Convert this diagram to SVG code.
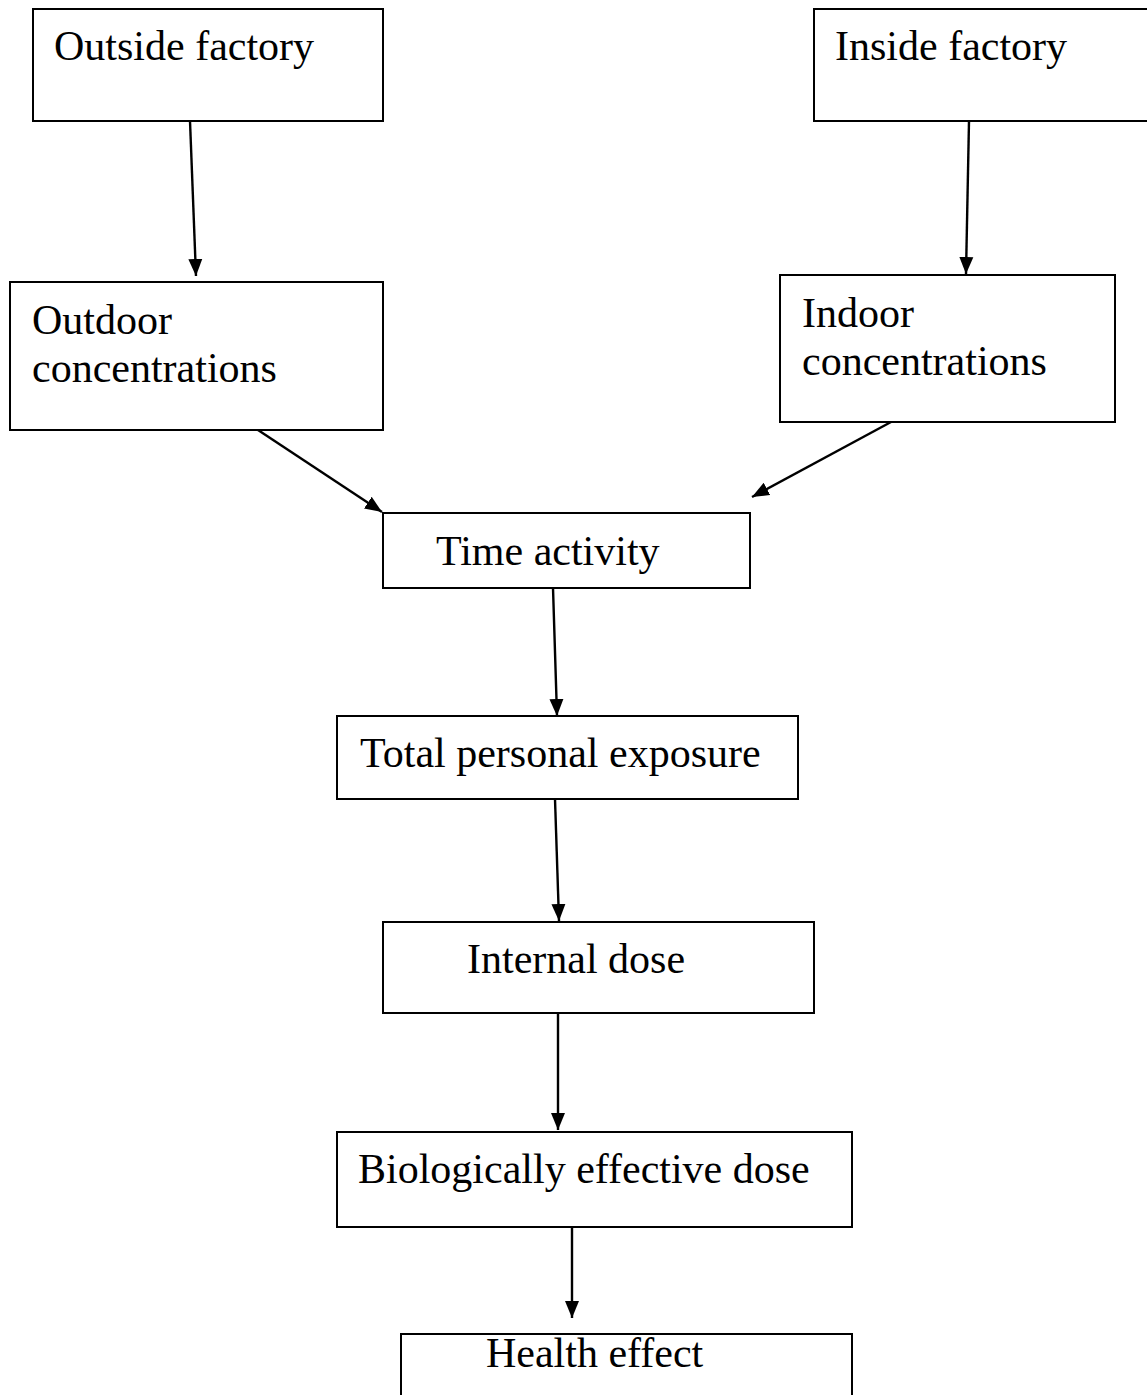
<svg xmlns="http://www.w3.org/2000/svg" width="1147" height="1395" viewBox="0 0 1147 1395">
<style>
.box{fill:#fff;stroke:#000;stroke-width:2}
.t{font-family:"Liberation Serif","Times New Roman",serif;font-size:42px;fill:#000}
.c{stroke:#000;stroke-width:2.4;fill:none;marker-end:url(#ah)}
</style>
<defs>
<marker id="ah" markerUnits="userSpaceOnUse" markerWidth="18" markerHeight="16" refX="17" refY="8" orient="auto">
<path d="M0,1 L17,8 L0,15 Z" fill="#000"/>
</marker>
</defs>
<rect width="1147" height="1395" fill="#fff"/>
<g id="connectors">
<line class="c" x1="190" y1="121" x2="196" y2="276"/>
<line class="c" x1="969" y1="121" x2="966" y2="274"/>
<line class="c" x1="258" y1="430" x2="382" y2="512"/>
<line class="c" x1="891" y1="422" x2="752" y2="497"/>
<line class="c" x1="553" y1="588" x2="557" y2="716"/>
<line class="c" x1="555" y1="799" x2="559" y2="921"/>
<line class="c" x1="558" y1="1013" x2="558" y2="1130"/>
<line class="c" x1="572" y1="1227" x2="572" y2="1318"/>
</g>
<g id="outside-factory"><rect class="box" x="33" y="9" width="350" height="112"/><text class="t" x="54" y="60">Outside factory</text></g>
<g id="inside-factory"><rect class="box" x="814" y="9" width="340" height="112"/><text class="t" x="835" y="60">Inside factory</text></g>
<g id="outdoor-concentrations"><rect class="box" x="10" y="282" width="373" height="148"/><text class="t" x="32" y="334">Outdoor</text><text class="t" x="32" y="382">concentrations</text></g>
<g id="indoor-concentrations"><rect class="box" x="780" y="275" width="335" height="147"/><text class="t" x="802" y="327">Indoor</text><text class="t" x="802" y="375">concentrations</text></g>
<g id="time-activity"><rect class="box" x="383" y="513" width="367" height="75"/><text class="t" x="436" y="565">Time activity</text></g>
<g id="total-personal-exposure"><rect class="box" x="337" y="716" width="461" height="83"/><text class="t" x="360" y="767">Total personal exposure</text></g>
<g id="internal-dose"><rect class="box" x="383" y="922" width="431" height="91"/><text class="t" x="467" y="973">Internal dose</text></g>
<g id="biologically-effective-dose"><rect class="box" x="337" y="1132" width="515" height="95"/><text class="t" x="358" y="1183">Biologically effective dose</text></g>
<g id="health-effect"><rect class="box" x="401" y="1334" width="451" height="80"/><text class="t" x="486" y="1367">Health effect</text></g>
</svg>
